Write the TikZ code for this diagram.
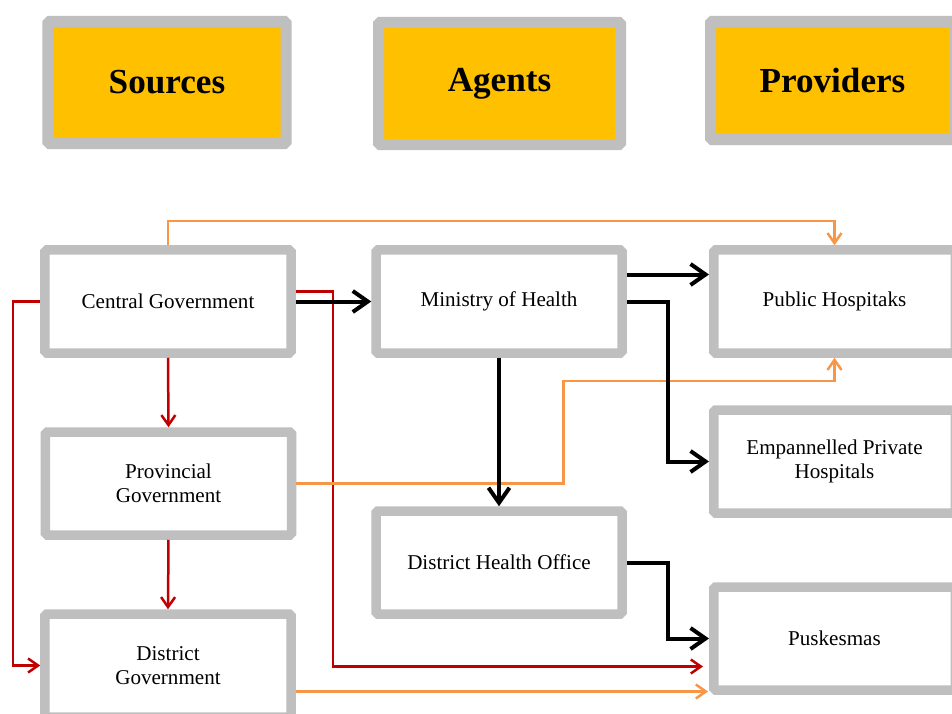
\documentclass[tikz,border=0pt]{standalone}
\usepackage{fontspec}
\setmainfont{Liberation Serif}
\usetikzlibrary{calc}
\usetikzlibrary{arrows.meta}
\definecolor{boxgray}{HTML}{BFBFBF}
\definecolor{headyellow}{HTML}{FFC000}
\definecolor{flowred}{HTML}{C00000}
\definecolor{floworange}{HTML}{F79646}
\tikzset{hbox/.style={draw=boxgray, line width=2.2mm, fill=headyellow, minimum width=47.6mm, minimum height=24.4mm, inner sep=0pt, rounded corners=1pt, font=\fontsize{20}{24}\selectfont\bfseries}}
\tikzset{ent/.style={draw=boxgray, line width=1.9mm, fill=white, minimum width=49.2mm, minimum height=20.6mm, inner sep=0pt, align=center, rounded corners=1pt, font=\fontsize{12}{13.5}\selectfont}}
\tikzset{prov/.style={ent, minimum width=48.3mm}}
\tikzset{blk/.style={line width=0.8mm, -{Straight Barb[length=3mm,width=4.2mm]}}}
\tikzset{rd/.style={draw=flowred, line width=0.5mm, -{Straight Barb[length=2mm,width=2.8mm]}}}
\tikzset{og/.style={draw=floworange, line width=0.5mm, -{Straight Barb[length=2mm,width=2.8mm]}}}

\begin{document}
\begin{tikzpicture}[x=0.2mm, y=-0.2mm]
\useasboundingbox (0,0) rectangle (952,714);

% column heads
\node[hbox] (src) at (167, 82.5) {Sources};
\node[hbox, minimum width=48.4mm] (agt) at (499.5, 83.5) {Agents};
\node[hbox, minimum width=48.8mm, minimum height=23.6mm] (prv) at (832.5, 80.5) {Providers};

% sources
\node[ent] (cg) at (168, 301.5) {Central Government};
\node[ent] (pg) at (168.5, 483.5) {Provincial\\Government};
\node[ent] (dg) at (168, 665.5) {District\\Government};

% agents
\node[ent] (moh) at (499, 301.5) {Ministry of Health};
\node[ent] (dho) at (499, 562.5) {District Health Office};

% providers
\node[prov] (ph) at (834.5, 301.5) {Public Hospitaks};
\node[prov] (eph) at (834.5, 461.5) {Empannelled Private\\Hospitals};
\node[prov] (pusk) at (834.5, 638.5) {Puskesmas};

\coordinate (puskr) at ($(pusk.west)+(-6,28)$);
\coordinate (pusko) at ($(pusk.west)+(-1,53)$);

% funds from government
\draw[rd] (cg.west) -- ++(-27,0) |- (dg.west);
\draw[rd] (cg.south) -- (pg.north);
\draw[rd] (pg.south) -- (dg.north);
\draw[rd] ($(cg.east)+(0,-10)$) -- ++(37,0) |- (puskr);

\draw[og] (cg.north) -- ++(0,-24) -| (ph.north);
\draw[og] (pg.east) -- ++(267,0) |- ($(ph.south)+(0,23)$) -- (ph.south);
\draw[og] ($(dg.east)+(0,26)$) -- (pusko);

% ministry flows
\draw[blk] (cg.east) -- (moh.west);
\draw[blk] ($(moh.east)+(0,-27)$) -- ($(ph.west)+(0,-27)$);
\draw[blk] (moh.east) -- ++(41,0) |- (eph.west);
\draw[blk] (moh.south) -- (dho.north);
\draw[blk] (dho.east) -- ++(41,0) |- (pusk.west);
\end{tikzpicture}
\end{document}
